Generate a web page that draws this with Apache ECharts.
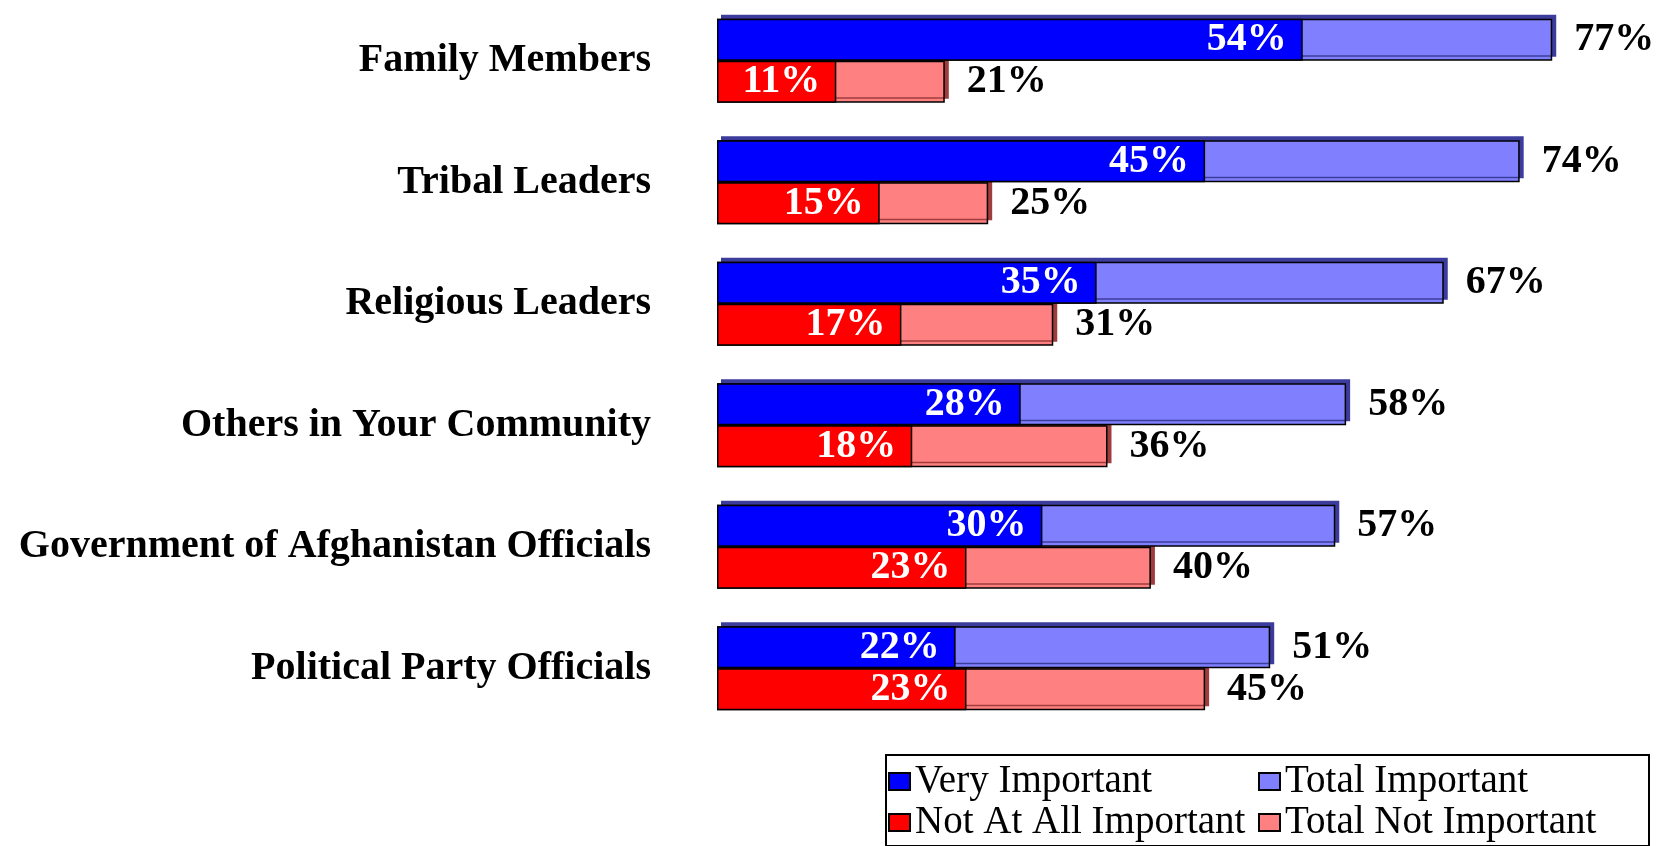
<!DOCTYPE html>
<html>
<head>
<meta charset="UTF-8">
<title>Importance of opinions</title>
<script src="https://cdn.jsdelivr.net/npm/echarts@6/dist/echarts.min.js"></script>
<style>
	html, body { margin: 0; padding: 0; background: #fff; }
</style>
</head>
<body>
	<div id="main" style="width: 1657px; height: 846px;"></div>

	<script type="text/javascript">
		// data
		var categories = ['Family Members', 'Tribal Leaders', 'Religious Leaders',
			'Others in Your Community', 'Government of Afghanistan Officials', 'Political Party Officials'];
		var veryImportant = [54, 45, 35, 28, 30, 22];
		var totalImportant = [77, 74, 67, 58, 57, 51];
		var notAtAll = [11, 15, 17, 18, 23, 23];
		var totalNotImportant = [21, 25, 31, 36, 40, 45];

		var serif = "'Liberation Serif', 'Times New Roman', serif";
		var pct = function (p) { return p.value + '%'; };

		var myChart = echarts.init(document.getElementById('main'));

		var outerLabel = {
			show : true,
			position : 'right',
			distance : 22,
			formatter : pct,
			color : '#000',
			fontFamily : serif,
			fontWeight : 'bold',
			fontSize : 40
		};
		var innerLabel = {
			show : true,
			position : 'insideRight',
			distance : 16,
			formatter : pct,
			color : '#fff',
			fontFamily : serif,
			fontWeight : 'bold',
			fontSize : 40
		};

		myChart.setOption({
			animation : false,
			grid : {
				left : 717,
				right : 18,
				top : 0,
				bottom : 117
			},
			legend : {
				left : 886,
				top : 755,
				width : 740,
				padding : [ 6, 21, 3, 2 ],
				itemGap : 0,
				itemWidth : 21,
				itemHeight : 17,
				icon : 'rect',
				borderColor : '#000',
				borderWidth : 2,
				data : [ 'Very Important', 'Total Important', 'Not At All Important', 'Total Not Important' ],
				itemStyle : {
					borderColor : '#000',
					borderWidth : 2,
					shadowColor : 'rgba(0,0,0,0)',
					shadowOffsetX : 0,
					shadowOffsetY : 0
				},
				formatter : '{t|{name}}',
				textStyle : {
					lineHeight : 41,
					rich : {
						t : {
							width : 343,
							height : 41,
							lineHeight : 41,
							fontSize : 39,
							fontFamily : serif,
							color : '#000'
						}
					}
				}
			},
			xAxis : {
				type : 'value',
				min : 0,
				max : 85,
				show : false
			},
			yAxis : [ {
				type : 'category',
				inverse : true,
				data : categories,
				axisLine : { show : false },
				axisTick : { show : false },
				axisLabel : {
					margin : 66,
					color : '#000',
					fontFamily : serif,
					fontWeight : 'bold',
					fontSize : 40
				}
			}, {
				type : 'category',
				inverse : true,
				data : categories,
				show : false
			} ],
			series : [ {
				name : 'Total Important',
				type : 'bar',
				yAxisIndex : 0,
				z : 4,
				barWidth : 42,
				barGap : '0%',
				data : totalImportant,
				itemStyle : {
					color : '#8080ff',
					borderColor : '#000',
					borderWidth : 1.5,
					shadowColor : '#3c3c9c',
					shadowOffsetX : 4,
					shadowOffsetY : -4
				},
				label : outerLabel
			}, {
				name : 'Total Not Important',
				type : 'bar',
				yAxisIndex : 0,
				z : 2,
				barWidth : 42,
				barGap : '0%',
				data : totalNotImportant,
				itemStyle : {
					color : '#ff8080',
					borderColor : '#000',
					borderWidth : 1.5,
					shadowColor : '#a03c3c',
					shadowOffsetX : 4,
					shadowOffsetY : -4
				},
				label : outerLabel
			}, {
				name : 'Very Important',
				type : 'bar',
				yAxisIndex : 1,
				z : 5,
				barWidth : 42,
				barGap : '0%',
				data : veryImportant,
				itemStyle : {
					color : '#0000ff',
					borderColor : '#000',
					borderWidth : 1.5
				},
				label : innerLabel
			}, {
				name : 'Not At All Important',
				type : 'bar',
				yAxisIndex : 1,
				z : 3,
				barWidth : 42,
				barGap : '0%',
				data : notAtAll,
				itemStyle : {
					color : '#ff0000',
					borderColor : '#000',
					borderWidth : 1.5
				},
				label : innerLabel
			} ]
		});
	</script>
</body>
</html>
